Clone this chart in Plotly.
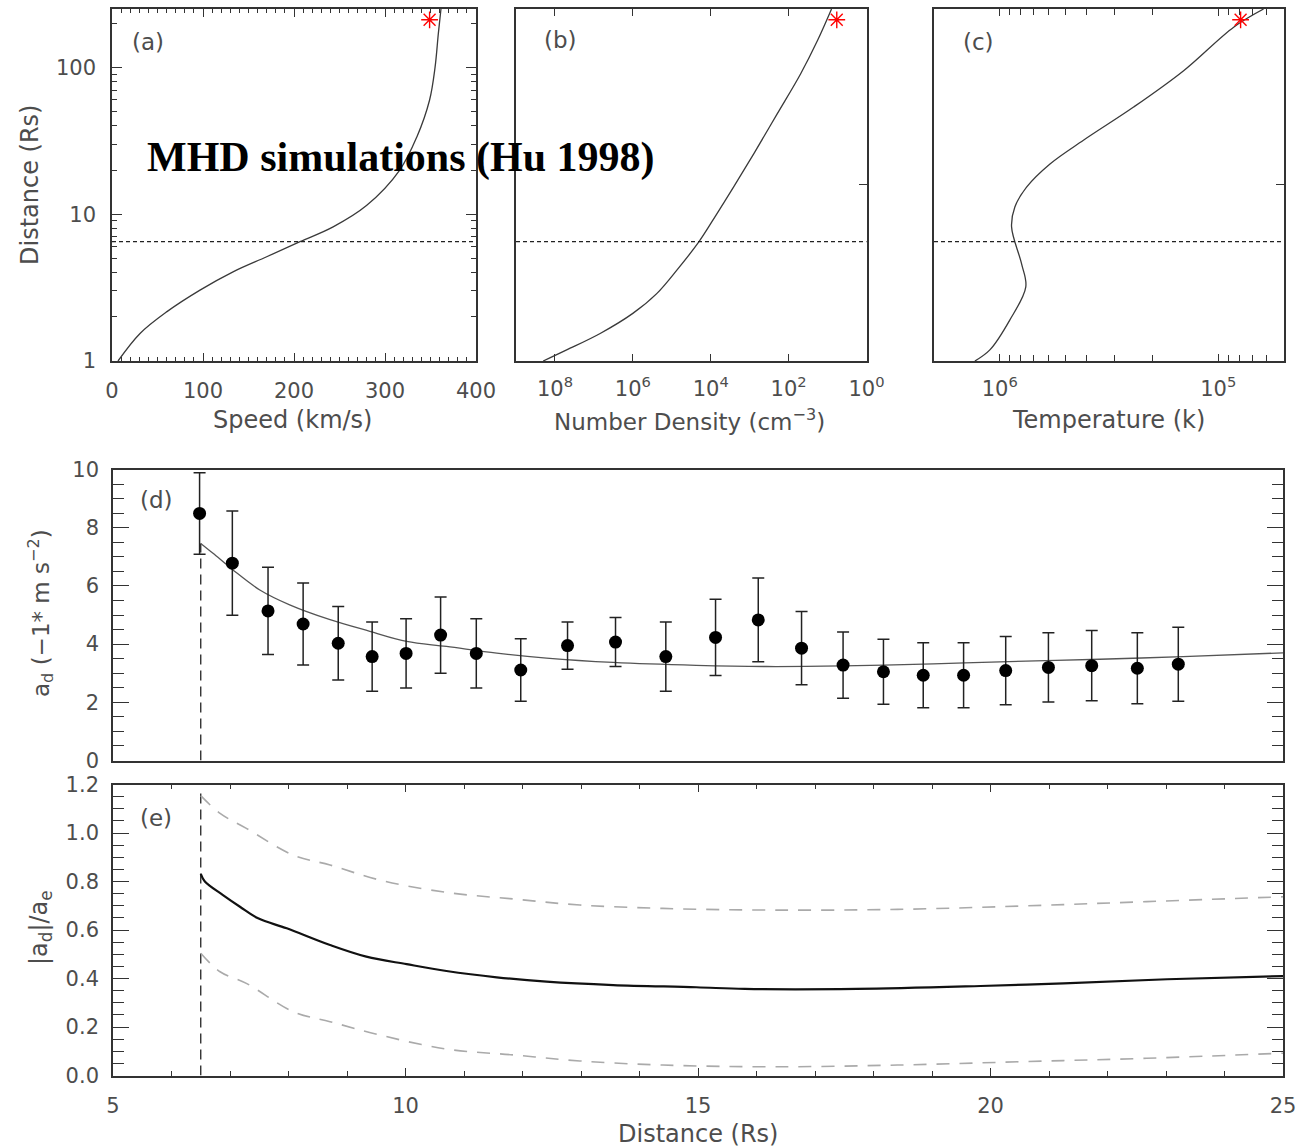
import math
import plotly.graph_objects as go

W, H = 1299, 1148

# ---------------- data ----------------
threshold_rs = 6.5          # Rs, dashed reference distance

# (a) speed profile
dist_a = [1.0, 1.54, 2.16, 3.04, 4.05, 5.13, 6.5, 8.2, 11.5, 19.9, 33.6, 60, 100, 170, 250]
speed_a = [6.6, 30.8, 60, 96.7, 133, 170, 206.6, 243, 280, 316, 335, 349, 355, 358.6, 361.5]
star_speed = [349]
star_dist = [211]

# (b) number density profile
dist_b = [1.0, 1.19, 1.54, 2.11, 2.89, 4.16, 6.5, 10.1, 15.3, 25.9, 48.4, 90.6, 153, 250]
dens_b = [2.0e8, 5.0e7, 6.9e6, 1.0e6, 2.4e5, 7.4e4, 2.0e4, 6.9e3, 2.6e3, 7.8e2, 1.95e2, 49, 18, 7.9]
star_dens = [5.8]

# (c) temperature profile
dist_c = [1.0, 1.19, 1.9, 3.2, 4.6, 8.2, 11.2, 15.3, 22, 31.9, 53.7, 95, 188, 250]
temp_c = [1.30e6, 1.11e6, 9.0e5, 7.6e5, 7.95e5, 8.83e5, 8.53e5, 7.54e5, 5.89e5, 4.14e5,
          2.44e5, 1.44e5, 8.5e4, 6.2e4]
star_temp = [7.9e4]

# (d) observed deceleration with error bars
obs_dist = [6.48, 7.04, 7.65, 8.25, 8.85, 9.43, 10.01, 10.60, 11.21, 11.97, 12.77, 13.59, 14.45,
            15.30, 16.03, 16.77, 17.48, 18.17, 18.85, 19.54, 20.26, 20.99, 21.73, 22.51, 23.21]
obs_acc = [8.49, 6.78, 5.14, 4.69, 4.03, 3.57, 3.68, 4.31, 3.68, 3.11, 3.95, 4.07, 3.57,
           4.23, 4.83, 3.86, 3.28, 3.05, 2.93, 2.93, 3.09, 3.20, 3.26, 3.17, 3.31]
obs_err = [1.40, 1.79, 1.50, 1.41, 1.26, 1.19, 1.19, 1.31, 1.19, 1.07, 0.81, 0.84, 1.19,
           1.31, 1.44, 1.26, 1.14, 1.12, 1.12, 1.12, 1.17, 1.19, 1.21, 1.22, 1.27]

model_dist = [6.5, 6.71, 7.05, 7.51, 8.02, 8.71, 9.39, 10.02, 10.70, 11.56, 12.41, 13.55,
              14.97, 16.17, 17.48, 19.02, 20.16, 21.87, 23.29, 25.0]
model_acc = [7.46, 7.12, 6.55, 5.86, 5.35, 4.84, 4.44, 4.09, 3.92, 3.69, 3.52, 3.37,
             3.27, 3.23, 3.25, 3.32, 3.39, 3.48, 3.57, 3.70]

# (e) ratio |a_d|/a_e
ratio_dist = [6.5, 6.57, 6.88, 7.17, 7.48, 7.97, 8.71, 9.33, 10.02, 10.70, 11.56, 12.41,
              13.55, 14.97, 15.80, 17.71, 19.83, 21.25, 23.02, 25.0]
ratio_mid = [0.831, 0.80, 0.744, 0.696, 0.648, 0.607, 0.538, 0.49, 0.459, 0.431, 0.405, 0.387,
             0.373, 0.364, 0.357, 0.357, 0.369, 0.380, 0.397, 0.410]
band_dist = [6.5, 6.83, 7.28, 8.08, 8.71, 9.56, 10.70, 11.84, 12.98, 14.40, 16.29, 18.41,
             20.54, 22.67, 25.0]
ratio_upper = [1.154, 1.081, 1.019, 0.909, 0.868, 0.806, 0.755, 0.728, 0.703, 0.689, 0.682,
               0.685, 0.699, 0.717, 0.737]
ratio_lower = [0.504, 0.428, 0.380, 0.263, 0.222, 0.167, 0.109, 0.085, 0.060, 0.043, 0.036,
               0.043, 0.057, 0.071, 0.092]

# tick labels
speed_ticks = [0, 100, 200, 300, 400]
dist_ticks = [1, 10, 100]
dens_ticks = [1e8, 1e6, 1e4, 1e2, 1e0]
dens_ticktext = ["10<sup>8</sup>", "10<sup>6</sup>", "10<sup>4</sup>", "10<sup>2</sup>", "10<sup>0</sup>"]
temp_ticks = [1e6, 1e5]
temp_ticktext = ["10<sup>6</sup>", "10<sup>5</sup>"]

# ---------------- layout helpers ----------------
def px_x(p):
    return p / W

def px_y(p):
    return 1 - p / H

FONT = "DejaVu Sans"
TICKC = "#4d4d4d"
LINEC = "#333"
CURVE = "#3a3a3a"

fig = go.Figure()

star_marker = dict(symbol="asterisk-open", size=14, color="red", line=dict(color="red", width=1.4))

# (a)
fig.add_trace(go.Scatter(x=speed_a, y=dist_a, mode="lines", line=dict(color=CURVE, width=1.3, shape="spline"),
                         xaxis="x", yaxis="y"))
fig.add_trace(go.Scatter(x=star_speed, y=star_dist, mode="markers", marker=star_marker,
                         xaxis="x", yaxis="y"))
# (b)
fig.add_trace(go.Scatter(x=dens_b, y=dist_b, mode="lines", line=dict(color=CURVE, width=1.3, shape="spline"),
                         xaxis="x2", yaxis="y2"))
fig.add_trace(go.Scatter(x=star_dens, y=star_dist, mode="markers", marker=star_marker,
                         xaxis="x2", yaxis="y2"))
# (c)
fig.add_trace(go.Scatter(x=temp_c, y=dist_c, mode="lines", line=dict(color=CURVE, width=1.3, shape="spline"),
                         xaxis="x3", yaxis="y3"))
fig.add_trace(go.Scatter(x=star_temp, y=star_dist, mode="markers", marker=star_marker,
                         xaxis="x3", yaxis="y3"))

# (d)
fig.add_trace(go.Scatter(x=[threshold_rs, threshold_rs], y=[0, model_acc[0]], mode="lines",
                         line=dict(color="#222", width=1.3, dash="10px,6px"), xaxis="x4", yaxis="y4"))
fig.add_trace(go.Scatter(x=model_dist, y=model_acc, mode="lines",
                         line=dict(color="#555", width=1.3, shape="spline"), xaxis="x4", yaxis="y4"))
fig.add_trace(go.Scatter(x=obs_dist, y=obs_acc, mode="markers",
                         marker=dict(symbol="circle", size=13, color="black"),
                         error_y=dict(type="data", array=obs_err, visible=True, color="#222",
                                      thickness=1.5, width=6),
                         xaxis="x4", yaxis="y4"))

# (e)
fig.add_trace(go.Scatter(x=[threshold_rs, threshold_rs], y=[0, 1.17], mode="lines",
                         line=dict(color="#222", width=1.3, dash="10px,6px"), xaxis="x5", yaxis="y5"))
fig.add_trace(go.Scatter(x=band_dist, y=ratio_upper, mode="lines",
                         line=dict(color="#aaaaaa", width=1.6, dash="13px,10px", shape="spline"),
                         xaxis="x5", yaxis="y5"))
fig.add_trace(go.Scatter(x=band_dist, y=ratio_lower, mode="lines",
                         line=dict(color="#aaaaaa", width=1.6, dash="13px,10px", shape="spline"),
                         xaxis="x5", yaxis="y5"))
fig.add_trace(go.Scatter(x=ratio_dist, y=ratio_mid, mode="lines",
                         line=dict(color="#111", width=2.2, shape="spline"), xaxis="x5", yaxis="y5"))

tickfont = dict(family=FONT, size=21, color=TICKC)
base = dict(showline=True, linecolor=LINEC, linewidth=1.6, showgrid=False, zeroline=False,
            ticks="inside", tickcolor=LINEC, tickwidth=1.2, tickfont=tickfont, automargin=False)

dom_top_y = [px_y(361), px_y(9)]
log_top = [0, math.log10(250)]
log_minor = [m * 10 ** k for k in range(0, 3) for m in range(2, 10)]

layout = dict(
    width=W, height=H, margin=dict(l=0, r=0, t=0, b=0),
    paper_bgcolor="white", plot_bgcolor="white", showlegend=False,
    xaxis=dict(base, domain=[px_x(112), px_x(476)], anchor="y", range=[0, 400],
               tickvals=speed_ticks, ticklen=8, mirror="ticks", ticklabelstandoff=10,
               minor=dict(dtick=10, ticklen=4, ticks="inside", tickcolor=LINEC, tickwidth=1)),
    yaxis=dict(base, domain=dom_top_y, anchor="x", type="log", range=log_top,
               tickvals=dist_ticks, ticktext=["1", "10", "100"], ticklen=10, mirror="ticks",
               ticklabelstandoff=10,
               minor=dict(tickvals=log_minor, ticklen=5, ticks="inside", tickcolor=LINEC, tickwidth=1)),
    xaxis2=dict(base, domain=[px_x(516), px_x(866.5)], anchor="y2", type="log", range=[9, 0],
                tickvals=dens_ticks, ticktext=dens_ticktext, ticklen=7, mirror="ticks",
                ticklabelstandoff=8),
    yaxis2=dict(base, domain=dom_top_y, anchor="x2", type="log", range=log_top, side="right",
                tickvals=[10 ** 1.2], ticklen=8, showticklabels=False, mirror=True),
    xaxis3=dict(base, domain=[px_x(934), px_x(1284)], anchor="y3", type="log",
                range=[math.log10(2e6), math.log10(5e4)],
                tickvals=temp_ticks, ticktext=temp_ticktext, ticklen=7, mirror="ticks",
                ticklabelstandoff=8,
                minor=dict(tickvals=[m * 1e5 for m in range(2, 10)] + [m * 1e4 for m in range(5, 10)],
                           ticklen=6, ticks="inside", tickcolor=LINEC, tickwidth=1)),
    yaxis3=dict(base, domain=dom_top_y, anchor="x3", type="log", range=log_top, side="right",
                tickvals=[10 ** 1.2], ticklen=8, showticklabels=False, mirror=True),
    xaxis4=dict(base, domain=[px_x(113), px_x(1283)], anchor="y4", range=[5, 25],
                ticks="", showticklabels=False, mirror=True),
    yaxis4=dict(base, domain=[px_y(760.5), px_y(469.5)], anchor="x4", range=[0, 10],
                tickvals=[0, 2, 4, 6, 8, 10], ticklen=16, mirror="ticks", ticklabelstandoff=8,
                minor=dict(dtick=0.5, ticklen=11, ticks="inside", tickcolor=LINEC, tickwidth=1)),
    xaxis5=dict(base, domain=[px_x(113), px_x(1283)], anchor="y5", range=[5, 25],
                tickvals=[5, 10, 15, 20, 25], ticklen=8, mirror="ticks", ticklabelstandoff=10,
                minor=dict(dtick=1, ticklen=5, ticks="inside", tickcolor=LINEC, tickwidth=1)),
    yaxis5=dict(base, domain=[px_y(1075.5), px_y(784.5)], anchor="x5", range=[0, 1.2],
                tickvals=[0, 0.2, 0.4, 0.6, 0.8, 1.0, 1.2],
                ticktext=["0.0", "0.2", "0.4", "0.6", "0.8", "1.0", "1.2"],
                ticklen=16, mirror="ticks", ticklabelstandoff=8,
                minor=dict(dtick=0.05, ticklen=11, ticks="inside", tickcolor=LINEC, tickwidth=1)),
)
fig.update_layout(**layout)

# dashed horizontal reference line at threshold distance in panels a-c
for xr, yr in [("x", "y"), ("x2", "y2"), ("x3", "y3")]:
    fig.add_shape(type="line", xref=f"{xr} domain", yref=yr, x0=0, x1=1,
                  y0=threshold_rs, y1=threshold_rs, line=dict(color="#222", width=1.3, dash="4px,3px"))

def ann(text, x, y, size=23, angle=0, family=FONT, color=TICKC, xanchor="center"):
    fig.add_annotation(text=text, x=px_x(x), y=px_y(y), xref="paper", yref="paper",
                       showarrow=False, textangle=angle, xanchor=xanchor, yanchor="middle",
                       font=dict(family=family, size=size, color=color))

# axis titles
ann("Distance (Rs)", 30, 185, size=24, angle=-90)
ann("Speed (km/s)", 292, 420, size=24)
ann("Number Density (cm<sup>−3</sup>)", 690, 420, size=23)
ann("Temperature (k)", 1108, 420, size=24)
ann("a<sub>d</sub> (−1* m s<sup>−2</sup>)", 40, 613, size=23, angle=-90)
ann("|a<sub>d</sub>|/a<sub>e</sub>", 40, 928, size=24, angle=-90)
ann("Distance (Rs)", 698, 1134, size=24)

# panel labels
ann("(a)", 148, 42)
ann("(b)", 560, 40)
ann("(c)", 978, 42)
ann("(d)", 156, 500)
ann("(e)", 156, 818)

# overlay title text
ann("<b>MHD simulations (Hu 1998)</b>", 401, 158, size=42, family="Liberation Serif", color="black")

fig.write_html("out.html", config={"displayModeBar": False},
               post_script="document.body.style.margin='0';document.body.style.padding='0';"
                           "document.body.style.overflow='hidden';")
